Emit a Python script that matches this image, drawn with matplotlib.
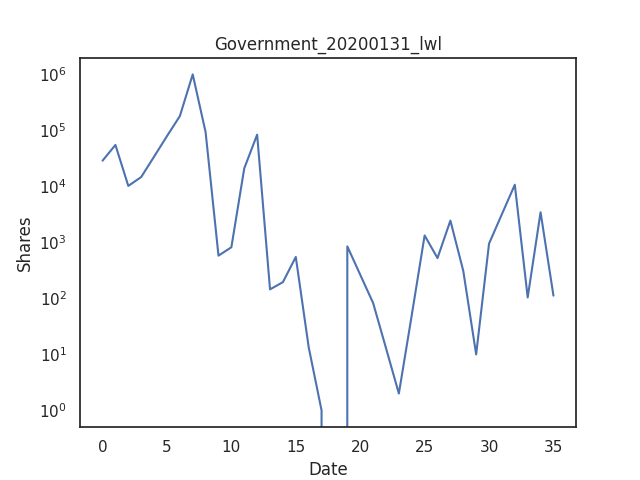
import numpy as np
import seaborn as sns
from matplotlib import pyplot as plt

sns.set_theme(style="white")

# daily share counts (0 at day 18)
dates = np.arange(36)
shares = [28800, 55000, 10200, 14700, 34000, 79000, 180000, 1000000, 93000, 580,
          820, 21000, 84000, 145, 195, 550, 13.5, 1, 0, 850,
          265, 83, 13, 2, 50, 1330, 525, 2450, 310, 10,
          950, 3200, 10700, 104, 3450, 112]

fig, ax = plt.subplots(figsize=(6.4, 4.8), dpi=100)
ax.plot(dates, shares)
ax.set_yscale('log')
ax.set_title('Government_20200131_lwl')
ax.set_xlabel('Date')
ax.set_ylabel('Shares')
fig.savefig('out.png')
